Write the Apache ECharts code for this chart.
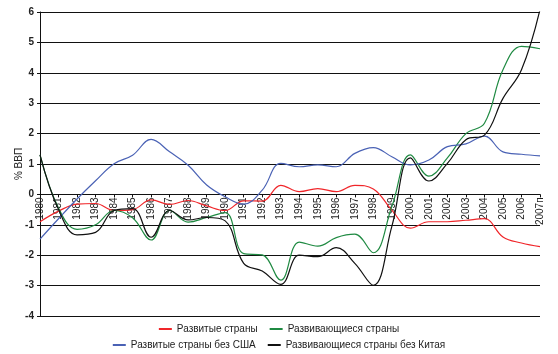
<!DOCTYPE html>
<html><head><meta charset="utf-8">
<script src="https://cdn.jsdelivr.net/npm/echarts@6/dist/echarts.min.js"></script>
<style>html,body{margin:0;padding:0;background:#fff}#c{width:558px;height:354px}</style>
</head><body><div id="c"></div>
<script>
const years = ['1980','1981','1982','1983','1984','1985','1986','1987','1988','1989','1990','1991','1992','1993','1994','1995','1996','1997','1998','1999','2000','2001','2002','2003','2004','2005','2006','2007п'];
const developed = [-0.9,-0.55,-0.32,-0.3,-0.53,-0.5,-0.18,-0.33,-0.2,-0.38,-0.53,-0.21,-0.22,0.3,0.09,0.19,0.09,0.3,0.18,-0.52,-1.11,-0.9,-0.9,-0.85,-0.8,-1.4,-1.6,-1.72];
const developing = [1.3,-0.45,-1.15,-1.0,-0.53,-0.77,-1.5,-0.53,-0.91,-0.76,-0.6,-1.95,-1.99,-2.82,-1.57,-1.7,-1.42,-1.31,-1.92,-0.4,1.3,0.6,1.2,2.0,2.34,4.1,4.87,4.79];
const developedExUS = [-1.47,-0.8,-0.15,0.45,1.01,1.29,1.81,1.4,0.96,0.31,-0.08,-0.32,0.14,1.02,0.91,0.97,0.91,1.35,1.54,1.24,0.97,1.13,1.57,1.66,1.92,1.4,1.32,1.27];
const developingExChina = [1.3,-0.5,-1.33,-1.25,-0.53,-0.47,-1.41,-0.53,-0.84,-0.76,-0.87,-2.27,-2.52,-2.96,-2.0,-2.05,-1.75,-2.27,-2.99,-1.05,1.2,0.44,1.02,1.8,1.95,3.16,4.1,6.08];
const names = ['Развитые страны','Развивающиеся страны','Развитые страны без США','Развивающиеся страны без Китая'];
const colors = ['#f0262a','#1f8a42','#4a62b5','#111111'];

const chart = echarts.init(document.getElementById('c'));
const mk = (i, d) => ({name: names[i], type:'line', data:d, smooth:0.4, symbol:'none',
  lineStyle:{color:colors[i], width:1.2}, itemStyle:{color:colors[i]}});
chart.setOption({
  animation:false,
  textStyle:{fontFamily:'Liberation Sans, Arial, sans-serif'},
  grid:{left:40,right:18,top:12,bottom:38},
  legend:[
    {data:[names[0],names[1]], left:'center', top:319, icon:'rect', itemWidth:13, itemHeight:2, itemGap:12,
     textStyle:{fontSize:10,color:'#222'}},
    {data:[names[2],names[3]], left:'center', top:335, icon:'rect', itemWidth:13, itemHeight:2, itemGap:12,
     textStyle:{fontSize:10,color:'#222'}}
  ],
  xAxis:{type:'category', data:years, boundaryGap:false, position:'bottom', offset:-121.6,
    axisLine:{onZero:false, lineStyle:{color:'#111',width:1}},
    axisTick:{show:true, inside:false, length:3, lineStyle:{color:'#111'}},
    axisLabel:{rotate:90, interval:0, fontSize:10, color:'#222', margin:3}},
  yAxis:{type:'value', min:-4, max:6, interval:1,
    name:'% ВВП', nameLocation:'middle', nameGap:16, nameRotate:90, nameMoveOverlap:false,
    nameTextStyle:{fontSize:10,color:'#222'},
    axisLine:{show:true, lineStyle:{color:'#111',width:1}},
    axisTick:{show:true, length:3, lineStyle:{color:'#111'}},
    axisLabel:{fontSize:10, color:'#222', fontWeight:'bold', margin:6, formatter:v=>String(v)},
    splitLine:{lineStyle:{color:'#111',width:1}}},
  series:[mk(0,developed), mk(1,developing), mk(2,developedExUS), mk(3,developingExChina)]
});
</script></body></html>
